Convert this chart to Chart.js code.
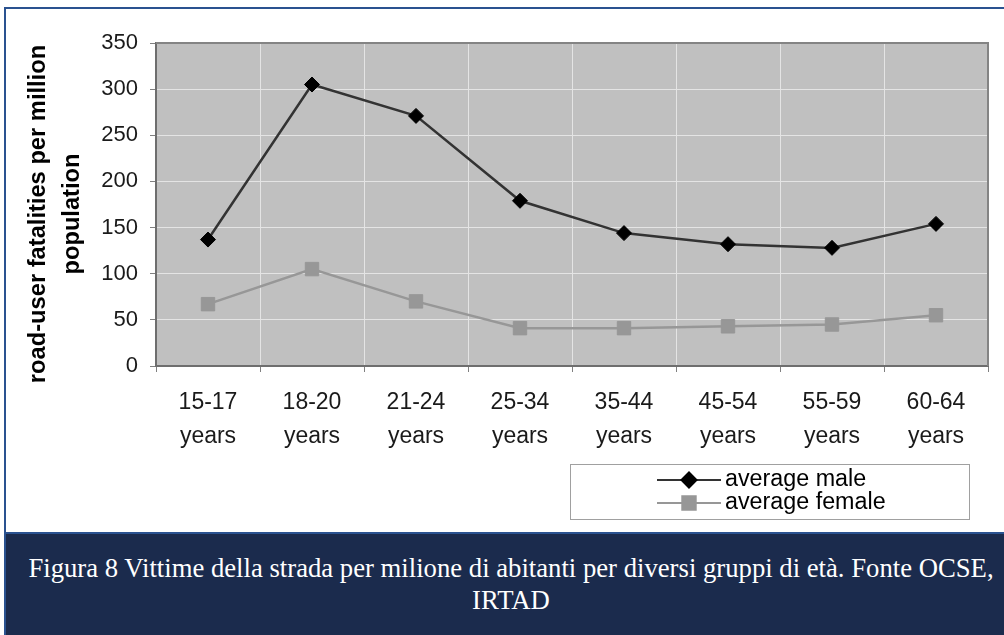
<!DOCTYPE html>
<html>
<head>
<meta charset="utf-8">
<script src="https://cdn.jsdelivr.net/npm/chart.js@4.4.1/dist/chart.umd.min.js"></script>
<style>
  html, body { margin: 0; padding: 0; background: #ffffff; }
  #page { position: relative; width: 1004px; height: 635px; overflow: hidden; background: #ffffff; }
  #frame { position: absolute; left: 4px; top: 7px; right: 0; bottom: 0;
           border-left: 2px solid #2a5290; border-top: 2px solid #2a5290; }
  #chart { position: absolute; left: 0; top: 0; }
  #caption { position: absolute; left: 4px; right: 0; top: 532px; bottom: 0;
             background: #1b2b4d; border-top: 2px solid #2a5290; border-left: 2px solid #2a5290;
             color: #ffffff; font-family: "Liberation Serif", "Times New Roman", serif;
             font-size: 26.7px; line-height: 32px; text-align: center;
             padding-top: 18px; padding-left: 12px; box-sizing: border-box; }
</style>
</head>
<body>
<div id="page">
  <div id="frame"></div>
  <canvas id="chart" width="1004" height="532"></canvas>
  <div id="caption">Figura 8 Vittime della strada per milione di abitanti per diversi gruppi di età. Fonte OCSE,<br>IRTAD</div>
</div>
<script>
// Age groups on the category axis (two-line labels)
const ageGroups = [
  ['15-17', 'years'], ['18-20', 'years'], ['21-24', 'years'], ['25-34', 'years'],
  ['35-44', 'years'], ['45-54', 'years'], ['55-59', 'years'], ['60-64', 'years']
];
// Road-user fatalities per million population
const averageMale   = [137, 305, 271, 179, 144, 132, 128, 154];
const averageFemale = [67, 105, 70, 41, 41, 43, 45, 55];
const seriesNames   = ['average male', 'average female'];
const yTicks        = { min: 0, max: 350, step: 50 };
const yTitle        = ['road-user fatalities per million', 'population'];

const FONT = 'Liberation Sans, Arial, Helvetica, sans-serif';

// Grey plot background and the darker frame on its top/right edges
const plotFrame = {
  id: 'plotFrame',
  beforeDraw(chart) {
    const { ctx, chartArea: a } = chart;
    ctx.save();
    ctx.fillStyle = '#c0c0c0';
    ctx.fillRect(a.left, a.top, a.right - a.left, a.bottom - a.top);
    ctx.restore();
  },
  beforeDatasetsDraw(chart) {
    const { ctx, chartArea: a } = chart;
    ctx.save();
    ctx.strokeStyle = '#848484';
    ctx.lineWidth = 2;
    ctx.beginPath();
    ctx.moveTo(a.left, a.top);
    ctx.lineTo(a.right, a.top);
    ctx.lineTo(a.right, a.bottom);
    ctx.stroke();
    ctx.restore();
  }
};

// Two-line rotated title for the value axis
const valueAxisTitle = {
  id: 'valueAxisTitle',
  afterDraw(chart) {
    const { ctx } = chart;
    ctx.save();
    ctx.translate(0, 214);
    ctx.rotate(-Math.PI / 2);
    ctx.fillStyle = '#000000';
    ctx.font = 'bold 23.7px ' + FONT;
    ctx.textAlign = 'center';
    ctx.textBaseline = 'middle';
    yTitle.forEach((line, i) => ctx.fillText(line, 0, 38 + i * 34));
    ctx.restore();
  }
};

// Boxed legend below the plot: line segment with the marker, then the name
const boxLegend = {
  id: 'boxLegend',
  afterDraw(chart) {
    const { ctx } = chart;
    const box = { x: 570, y: 464, w: 399, h: 55 };
    ctx.save();
    ctx.fillStyle = '#ffffff';
    ctx.fillRect(box.x, box.y, box.w, box.h);
    ctx.strokeStyle = '#a0a0a0';
    ctx.lineWidth = 1;
    ctx.strokeRect(box.x + 0.5, box.y + 0.5, box.w, box.h);
    chart.data.datasets.forEach((ds, i) => {
      const y = 480 + i * 23;
      const x0 = 657, x1 = 721, xm = 689;
      ctx.strokeStyle = ds.borderColor;
      ctx.lineWidth = 2;
      ctx.beginPath();
      ctx.moveTo(x0, y);
      ctx.lineTo(x1, y);
      ctx.stroke();
      ctx.fillStyle = ds.pointBackgroundColor;
      ctx.strokeStyle = ds.pointBorderColor;
      Chart.helpers.drawPoint(ctx, {
        pointStyle: ds.pointStyle, radius: ds.pointRadius, borderWidth: 1, rotation: 0
      }, xm, y);
      ctx.fillStyle = '#000000';
      ctx.font = '23.3px ' + FONT;
      ctx.textBaseline = 'middle';
      ctx.textAlign = 'left';
      ctx.fillText(ds.label, 725, y);
    });
    ctx.restore();
  }
};

new Chart(document.getElementById('chart'), {
  type: 'line',
  data: {
    labels: ageGroups,
    datasets: [
      {
        label: seriesNames[0],
        data: averageMale,
        borderColor: '#333333',
        borderWidth: 2.5,
        pointStyle: 'rectRot',
        pointRadius: 7.5,
        pointBackgroundColor: '#000000',
        pointBorderColor: '#000000',
        pointBorderWidth: 1,
        tension: 0
      },
      {
        label: seriesNames[1],
        data: averageFemale,
        borderColor: '#979797',
        borderWidth: 2.5,
        pointStyle: 'rect',
        pointRadius: 9.5,
        pointBackgroundColor: '#979797',
        pointBorderColor: '#979797',
        pointBorderWidth: 1,
        tension: 0
      }
    ]
  },
  options: {
    responsive: false,
    animation: false,
    events: [],
    layout: { padding: { top: 43, right: 16, left: 0, bottom: 0 } },
    plugins: { legend: { display: false }, tooltip: { enabled: false } },
    scales: {
      x: {
        offset: true,
        grid: { offset: true, color: '#e4e4e4', lineWidth: 1, tickLength: 6, tickColor: '#808080' },
        border: { color: '#6e6e6e', width: 2 },
        ticks: {
          color: '#1a1a1a',
          font: { family: FONT, size: 23, lineHeight: 1.5 },
          padding: 13,
          maxRotation: 0,
          autoSkip: false
        },
        afterFit(scale) { scale.height = 166; }
      },
      y: {
        min: yTicks.min,
        max: yTicks.max,
        grid: { color: '#e4e4e4', lineWidth: 1, tickLength: 6, tickColor: '#808080' },
        border: { color: '#6e6e6e', width: 2 },
        ticks: {
          stepSize: yTicks.step,
          color: '#1a1a1a',
          font: { family: FONT, size: 22 },
          padding: 12
        },
        title: { display: false },
        afterFit(scale) { scale.width = 156; }
      }
    }
  },
  plugins: [plotFrame, valueAxisTitle, boxLegend]
});
</script>
</body>
</html>
